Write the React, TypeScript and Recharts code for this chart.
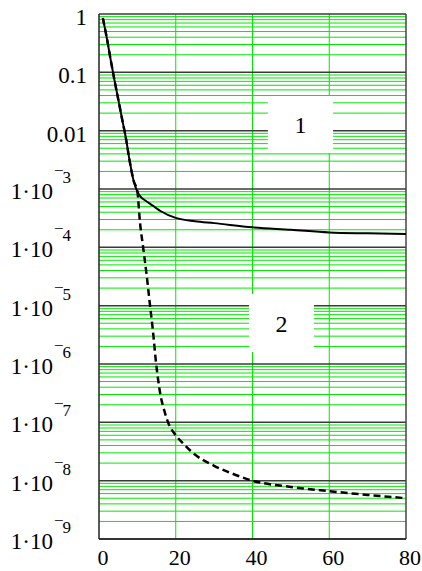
import React from "react";
import {
  LineChart, Line, XAxis, YAxis, CartesianGrid, ReferenceArea, ReferenceLine,
} from "recharts";

// curve 1 (solid) and curve 2 (dashed)
const curve1X = [1, 2, 3, 4, 5, 6, 7, 8, 9, 10, 11, 12, 14, 16, 20, 25, 30, 40, 50, 60, 70, 80];
const curve1Y = [
  0.85, 0.4, 0.17, 0.075, 0.035, 0.016, 0.0075, 0.003, 0.0014, 0.0009, 0.00072, 0.00064,
  0.00052, 0.00042, 0.00032, 0.00028, 0.00026, 0.00022, 0.0002, 0.00018, 0.000174, 0.00017,
];
const curve2X = [1, 2, 3, 4, 5, 6, 7, 8, 9, 10, 10.7, 11.5, 12.5, 13.3, 14, 14.9, 16, 17, 18, 20, 22, 25, 30, 35, 40, 50, 60, 70, 80];
const curve2Y = [
  0.85, 0.4, 0.17, 0.075, 0.035, 0.016, 0.0075, 0.003, 0.0014, 0.0009, 0.00026, 1e-4, 3e-5,
  1e-5, 4e-6, 1e-6, 3e-7, 1.6e-7, 1e-7, 6e-8, 4.3e-8, 2.8e-8, 1.8e-8, 1.3e-8, 1e-8, 7.8e-9,
  6.6e-9, 5.7e-9, 5e-9,
];

const xTicks = [0, 20, 40, 60, 80];
const decades = [1e-9, 1e-8, 1e-7, 1e-6, 1e-5, 1e-4, 1e-3, 0.01, 0.1, 1];
const minorMult = [2, 3, 4, 5, 6, 7, 8, 9];

const curve1 = curve1X.map((x, i) => ({ x, y: curve1Y[i] }));
const curve2 = curve2X.map((x, i) => ({ x, y: curve2Y[i] }));
const minorLines = decades.slice(0, -1).flatMap((d) => minorMult.map((m) => m * d));

const FONT = "Liberation Serif";
const GREEN = "#00e800";

function YTick(props: any) {
  const { x, y, payload } = props;
  const v: number = payload.value;
  const exp = Math.round(Math.log10(v));
  if (exp >= -2) {
    return (
      <text x={x - 12} y={y + 11} textAnchor="end" style={{ fontFamily: FONT }} fontSize={23} fill="#000">
        {exp === 0 ? "1" : exp === -1 ? "0.1" : "0.01"}
      </text>
    );
  }
  return (
    <g style={{ fontFamily: FONT }} fill="#000">
      <text x={x - 46} y={y + 10} textAnchor="end" fontSize={23}>1·10</text>
      <text x={x - 45} y={y - 13} textAnchor="start" fontSize={17}>−</text>
      <text x={x - 28} y={y - 6} textAnchor="end" fontSize={17}>{String(-exp)}</text>
    </g>
  );
}

function XTick(props: any) {
  const { x, y, payload } = props;
  return (
    <text x={x + 4} y={y + 26} textAnchor="middle" style={{ fontFamily: FONT }} fontSize={22} fill="#000">
      {payload.value}
    </text>
  );
}

export default function App() {
  return (
    <div style={{ position: "absolute", left: 0, top: 0, background: "#fff" }}>
      <LineChart width={422} height={571} margin={{ top: 14, right: 16, left: 0, bottom: 0 }}>
        <CartesianGrid stroke={GREEN} horizontal={false} verticalValues={[20, 40, 60]} />
        {minorLines.map((v) => (
          <ReferenceLine key={`m${v}`} y={v} stroke={GREEN} strokeWidth={1} />
        ))}
        {decades.map((v) => (
          <ReferenceLine key={`d${v}`} y={v} stroke="#3a3a3a" strokeWidth={1.5} />
        ))}
        <XAxis
          type="number"
          dataKey="x"
          domain={[0, 80]}
          ticks={xTicks}
          height={32}
          tick={<XTick />}
          tickLine={false}
          tickSize={0}
          tickMargin={0}
          axisLine={{ stroke: "#222", strokeWidth: 1.5 }}
          allowDataOverflow
        />
        <YAxis
          type="number"
          dataKey="y"
          scale="log"
          domain={[1e-9, 1]}
          ticks={decades}
          width={99}
          tick={<YTick />}
          tickLine={false}
          tickSize={0}
          tickMargin={0}
          axisLine={{ stroke: "#222", strokeWidth: 1.5 }}
          allowDataOverflow
        />
        <ReferenceLine x={80} stroke="#444" strokeWidth={1.5} />
        <Line data={curve2} dataKey="y" type="monotone" stroke="#000" strokeWidth={2.5}
          strokeDasharray="7 4" dot={false} isAnimationActive={false} />
        <Line data={curve1} dataKey="y" type="monotone" stroke="#000" strokeWidth={2}
          dot={false} isAnimationActive={false} />
        <ReferenceArea x1={44} x2={61} y1={0.00414} y2={0.0393} fill="#fff" fillOpacity={1}
          stroke="none" zIndex={1000}
          label={{ value: "1", position: "center", fontSize: 24, style: { fontFamily: FONT }, fill: "#000" }} />
        <ReferenceArea x1={39.1} x2={56} y1={1.6e-6} y2={1.58e-5} fill="#fff" fillOpacity={1}
          stroke="none" zIndex={1000}
          label={{ value: "2", position: "center", fontSize: 24, style: { fontFamily: FONT }, fill: "#000" }} />
      </LineChart>
    </div>
  );
}
